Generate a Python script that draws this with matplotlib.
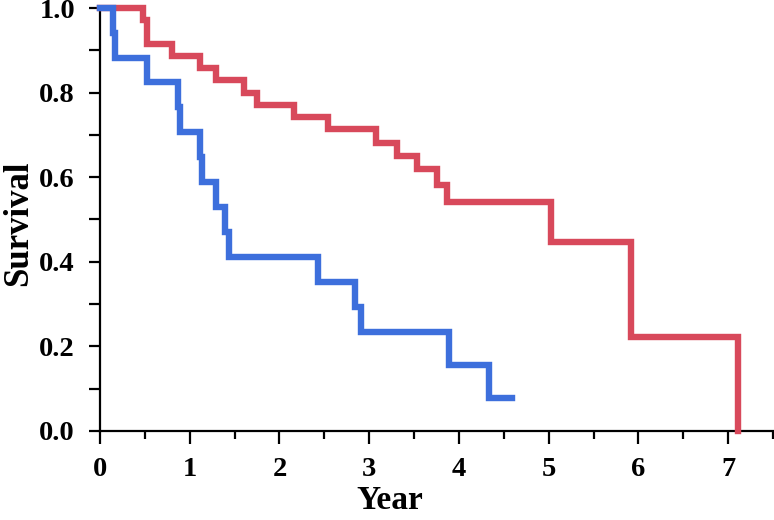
import matplotlib
matplotlib.use("Agg")
import matplotlib.pyplot as plt
from matplotlib.ticker import MultipleLocator

plt.rcParams["font.family"] = ["Liberation Serif", "DejaVu Serif"]
plt.rcParams["font.weight"] = "bold"

# Kaplan-Meier steps (year, survival)
red_years = [0, 0.48, 0.52, 0.80, 1.11, 1.29, 1.60, 1.75, 2.16, 2.54, 3.08,
             3.31, 3.53, 3.76, 3.87, 5.03, 5.92, 7.11]
red_surv = [1.0, 0.971, 0.914, 0.886, 0.857, 0.829, 0.800, 0.771, 0.743,
            0.714, 0.682, 0.651, 0.620, 0.582, 0.542, 0.447, 0.223, 0.0]

blue_years = [0, 0.14, 0.17, 0.52, 0.87, 0.89, 1.11, 1.14, 1.29, 1.39, 1.44,
              2.43, 2.84, 2.91, 3.89, 4.34, 4.59]
blue_surv = [1.0, 0.941, 0.882, 0.824, 0.765, 0.706, 0.647, 0.588, 0.529,
             0.471, 0.412, 0.353, 0.294, 0.235, 0.157, 0.078, 0.078]

x_ticks = [0, 1, 2, 3, 4, 5, 6, 7]
y_ticks = [0.0, 0.2, 0.4, 0.6, 0.8, 1.0]

fig = plt.figure(figsize=(7.74, 5.2), dpi=100)
ax = fig.add_axes([100 / 774, 89 / 520, 673 / 774, 423 / 520])

ax.step(red_years, red_surv, where="post", color="#d8495b", lw=4.6,
        solid_joinstyle="miter", clip_on=False, zorder=3)
ax.step(blue_years, blue_surv, where="post", color="#3d6fdc", lw=4.6,
        solid_joinstyle="miter", clip_on=False, zorder=4)

ax.set_xlim(0, 7.5)
ax.set_ylim(0, 1.0)
ax.set_xticks(x_ticks)
ax.set_yticks(y_ticks)
ax.set_xticklabels([str(v) for v in x_ticks])
ax.set_yticklabels(["%.1f" % v for v in y_ticks])
ax.xaxis.set_minor_locator(MultipleLocator(0.5))
ax.yaxis.set_minor_locator(MultipleLocator(0.1))

for s in ["top", "right"]:
    ax.spines[s].set_visible(False)
for s in ["left", "bottom"]:
    ax.spines[s].set_linewidth(1.6)
    ax.spines[s].set_color("black")

ax.tick_params(axis="x", which="major", direction="out", length=9.5, width=1.6,
               pad=9, labelsize=20.5)
ax.tick_params(axis="x", which="minor", direction="out", length=5.5, width=1.6)
ax.tick_params(axis="y", which="both", direction="out", length=8, width=1.6,
               pad=10, labelsize=20.5)

ax.set_xlabel("Year", fontweight="bold", fontsize=24)
ax.set_ylabel("Survival", fontweight="bold", fontsize=25)
ax.xaxis.set_label_coords(0.431, -0.128)
ax.yaxis.set_label_coords(-0.097, 0.49)

fig.savefig("out.png", dpi=100)
